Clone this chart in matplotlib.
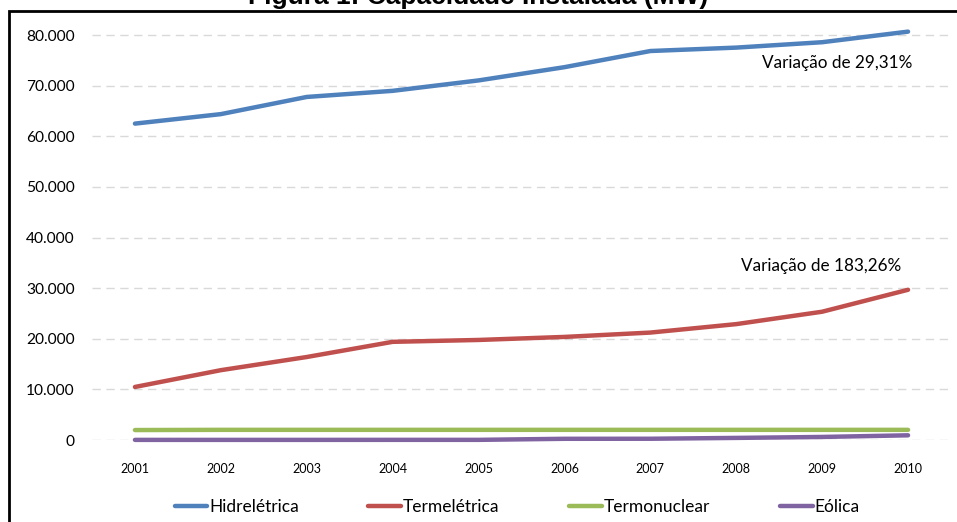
import matplotlib

matplotlib.use("Agg")
import matplotlib.pyplot as plt
from matplotlib.patches import Rectangle
from matplotlib.ticker import FuncFormatter

# Installed capacity in Brazil (MW)
years = ["2001", "2002", "2003", "2004", "2005", "2006", "2007", "2008", "2009", "2010"]
hidreletrica = [62523, 64400, 67793, 69000, 71060, 73678, 76871, 77545, 78610, 80703]
termeletrica = [10481, 13800, 16400, 19400, 19770, 20370, 21230, 22900, 25350, 29689]
termonuclear = [1966, 2007, 2007, 2007, 2007, 2007, 2007, 2007, 2007, 2007]
eolica = [22, 22, 22, 29, 29, 237, 247, 414, 602, 927]

series_names = ["Hidrelétrica", "Termelétrica", "Termonuclear", "Eólica"]
series_values = [hidreletrica, termeletrica, termonuclear, eolica]
colors = ["#4F81BD", "#C0504D", "#9BBB59", "#8064A2"]

W, H = 957, 522
plt.rcParams["font.family"] = ["Lato", "DejaVu Sans"]

figure = plt.figure(figsize=(W / 100, H / 100), dpi=100)
ax = figure.add_axes([92 / W, 1 - 440 / H, (951 - 92) / W, (440 - 20) / H])

x = range(len(years))
for name, values, color in zip(series_names, series_values, colors):
    ax.plot(x, values, color=color, lw=3.2, label=name, solid_capstyle="round", clip_on=False)

ax.set_xlim(-0.5, len(years) - 0.5)
ax.set_ylim(0, 83000)
ax.set_yticks(range(0, 80001, 10000))
ax.yaxis.set_major_formatter(FuncFormatter(lambda v, _: f"{int(v):,}".replace(",", ".")))
ax.set_xticks(list(x))
ax.set_xticklabels(years)
ax.tick_params(axis="y", length=0, pad=12.5, labelsize=11.2)
ax.tick_params(axis="x", length=0, pad=16.5, labelsize=9)
ax.grid(axis="y", color="#D9D9D9", linestyle=(0, (6, 4)), lw=1)
ax.set_axisbelow(True)
for spine in ax.spines.values():
    spine.set_visible(False)

ax.text(8.17, 74600, "Variação de 29,31%", ha="center", va="center", fontsize=12.3)
ax.text(7.99, 34300, "Variação de 183,26%", ha="center", va="center", fontsize=12.3)

figure.text(0.5, 1 - 4 / H, "Figura 1: Capacidade Instalada (MW)", ha="center", va="baseline",
            fontsize=19, fontweight="bold", family="Liberation Sans")

# chart frame (cropped at right and bottom in the original)
figure.patches.append(Rectangle((9 / W, -0.1), 1.2, 1 - 11 / H + 0.1, transform=figure.transFigure,
                                fill=False, edgecolor="black", lw=2))

figure.legend(loc="center", bbox_to_anchor=(517 / W, 1 - 507 / H), ncol=4, frameon=False,
              fontsize=12.5, handlelength=1.9, handletextpad=0.1, columnspacing=4.0)

figure.savefig("out.png", dpi=100)
